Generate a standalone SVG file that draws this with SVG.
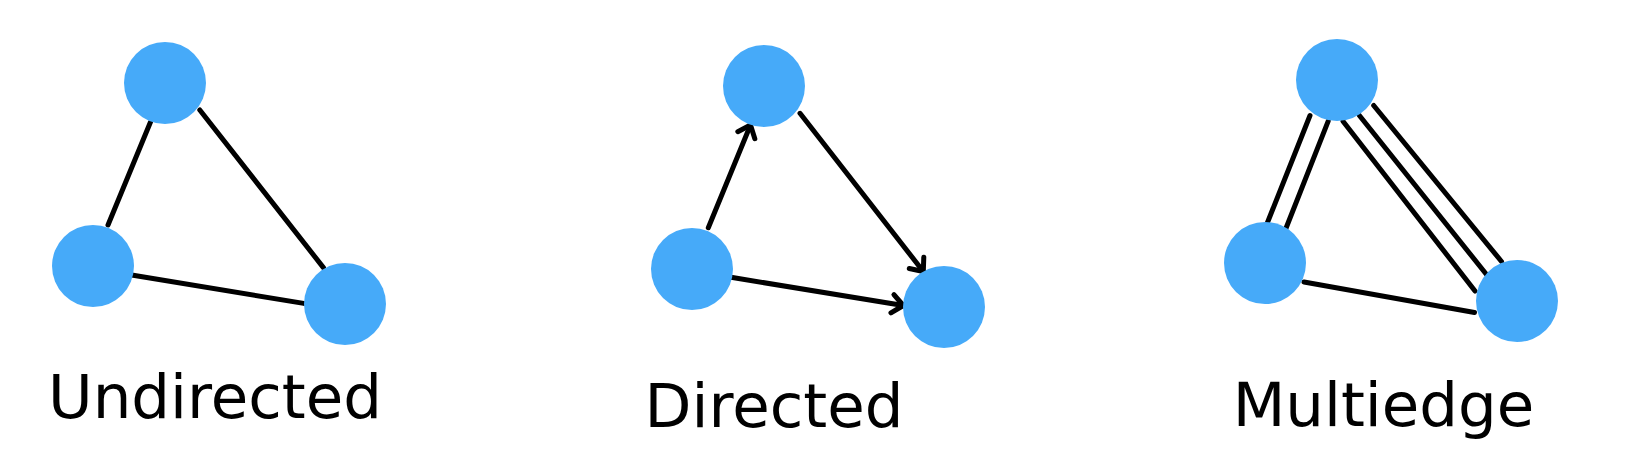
<svg xmlns="http://www.w3.org/2000/svg" width="1642" height="470" viewBox="0 0 1642 470">
<style>
.node{fill:#46aaf9}
.edge{stroke:#000;stroke-width:5;stroke-linecap:round;fill:none}
.lbl{font-family:"DejaVu Sans","Verdana",sans-serif;font-size:61px;fill:#000;text-anchor:middle}
</style>
<defs>
<marker id="arr" markerUnits="userSpaceOnUse" orient="auto" viewBox="-16 -16 20 32" markerWidth="20" markerHeight="32" refX="0" refY="0">
<path d="M-11,-9.2 L0,0 L-11,9.2" fill="none" stroke="#000" stroke-width="5" stroke-linecap="round" stroke-linejoin="round"/>
</marker>
</defs>
<rect width="1642" height="470" fill="#fff"/>
<g id="connectors">
<line class="edge" x1="150.5" y1="122" x2="108" y2="225"/>
<line class="edge" x1="199.8" y1="110" x2="323.4" y2="267.6"/>
<line class="edge" x1="131.6" y1="275" x2="303.7" y2="303.4"/>
<line class="edge" x1="708.3" y1="227.7" x2="750.5" y2="125" marker-end="url(#arr)"/>
<line class="edge" x1="800" y1="113.3" x2="923.3" y2="271.5" marker-end="url(#arr)"/>
<line class="edge" x1="731" y1="277.3" x2="903.3" y2="305.5" marker-end="url(#arr)"/>
<line class="edge" x1="1310" y1="115.5" x2="1267.4" y2="222.7"/>
<line class="edge" x1="1328.2" y1="121.2" x2="1285.7" y2="229"/>
<line class="edge" x1="1343" y1="121.2" x2="1475" y2="291"/>
<line class="edge" x1="1359.2" y1="115.2" x2="1487.3" y2="275.5"/>
<line class="edge" x1="1373.7" y1="105.5" x2="1501.5" y2="261.5"/>
<line class="edge" x1="1304" y1="282" x2="1474.5" y2="312.5"/>
</g>
<g id="undirected-top"><circle class="node" cx="165" cy="83" r="41"/></g>
<g id="undirected-left"><circle class="node" cx="93" cy="266" r="41"/></g>
<g id="undirected-right"><circle class="node" cx="345" cy="304" r="41"/></g>
<g id="directed-top"><circle class="node" cx="764" cy="86" r="41"/></g>
<g id="directed-left"><circle class="node" cx="692" cy="269" r="41"/></g>
<g id="directed-right"><circle class="node" cx="944" cy="307" r="41"/></g>
<g id="multiedge-top"><circle class="node" cx="1337" cy="80" r="41"/></g>
<g id="multiedge-left"><circle class="node" cx="1265" cy="263" r="41"/></g>
<g id="multiedge-right"><circle class="node" cx="1517" cy="301" r="41"/></g>
<g id="labels">
<text class="lbl" x="215" y="418">Undirected</text>
<text class="lbl" x="774" y="427">Directed</text>
<text class="lbl" x="1383.5" y="426">Multiedge</text>
</g>
</svg>
